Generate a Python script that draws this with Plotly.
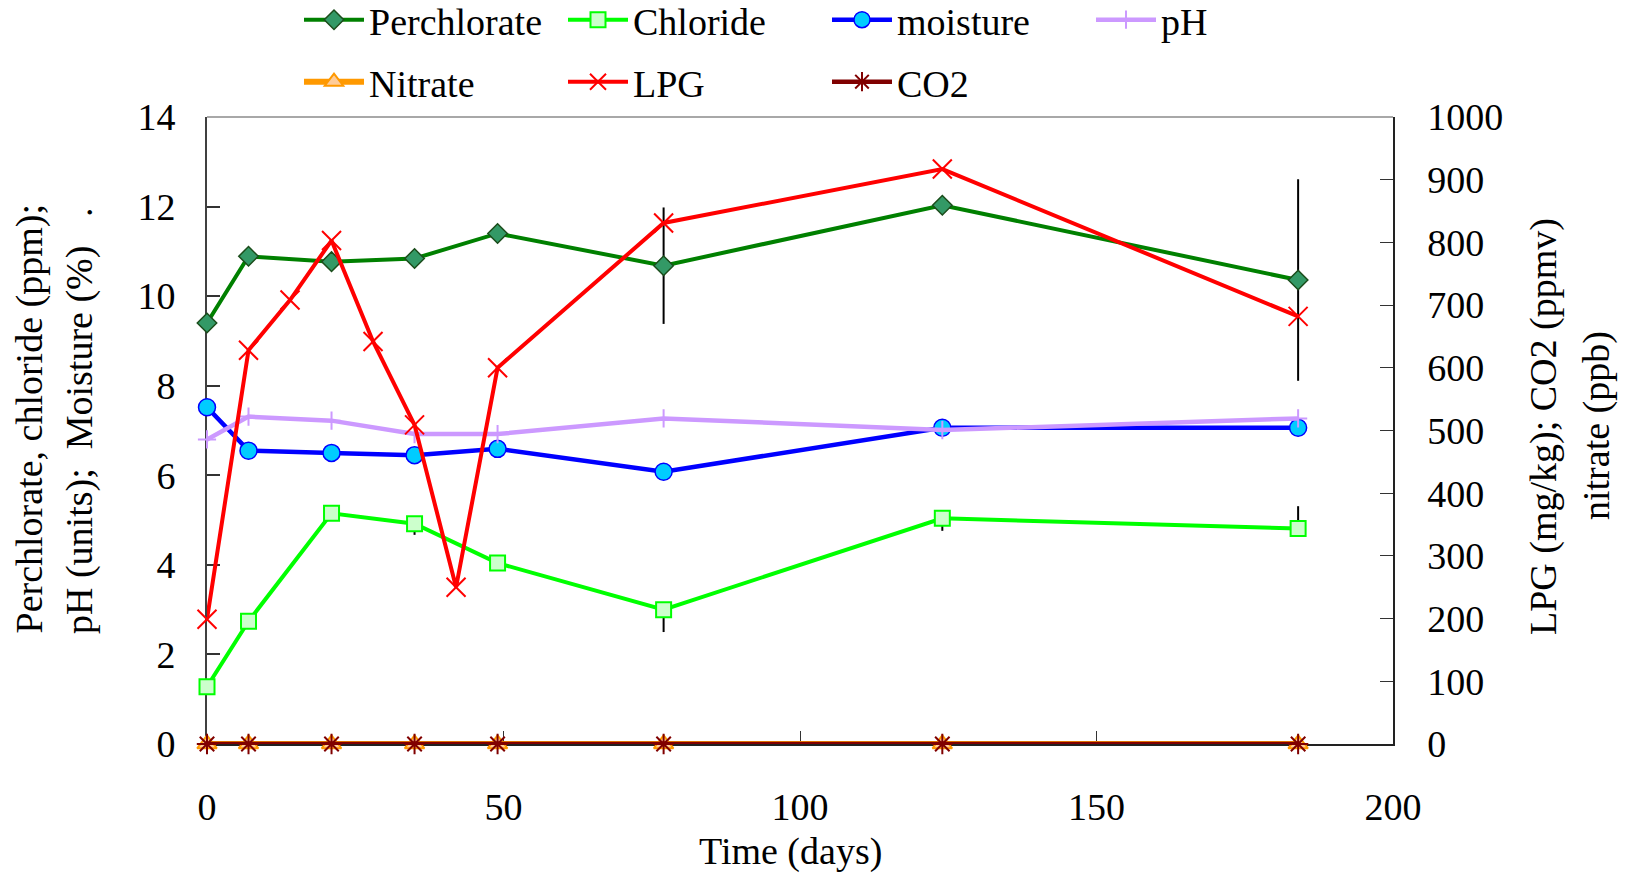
import plotly.graph_objects as go

# ---------------- data ----------------
days = [0, 7, 21, 35, 49, 77, 124, 184]
perchlorate = [9.40, 10.89, 10.77, 10.84, 11.40, 10.68, 12.03, 10.36]
perchlorate_err = [0, 0, 0, 0, 0, 1.3, 0, 2.25]
chloride = [1.28, 2.74, 5.15, 4.92, 4.04, 3.00, 5.04, 4.81]
chloride_err_plus = [0, 0, 0, 0, 0, 0, 0, 0.5]
chloride_err_minus = [0, 0, 0, 0.25, 0, 0.5, 0.28, 0]
moisture = [7.52, 6.55, 6.50, 6.45, 6.59, 6.08, 7.06, 7.06]
ph = [6.80, 7.31, 7.22, 6.92, 6.92, 7.27, 7.01, 7.27]
nitrate = [0, 0, 0, 0, 0, 0, 0, 0]
co2 = [0, 0, 0, 0, 0, 0, 0, 0]
lpg_days = [0, 7, 14, 21, 28, 35, 42, 49, 77, 124, 184]
lpg = [199, 628, 708, 803, 642, 509, 250, 600, 831, 917, 682]

x_ticks = [0, 50, 100, 150, 200]
y_ticks = [0, 2, 4, 6, 8, 10, 12, 14]
y2_ticks = [0, 100, 200, 300, 400, 500, 600, 700, 800, 900, 1000]

# ---------------- layout geometry ----------------
W, H = 1625, 875
ML, MR, MT, MB = 207, 232, 117, 131
PW, PH = W - ML - MR, H - MT - MB
FONT = "Liberation Serif, Times New Roman, serif"
FS = 38
ITEMW = 60            # legend symbol length
COLW = 264            # legend column pitch


def px_x(px):
    return (px - ML) / PW


def px_y(py):
    return (H - MB - py) / PH


fig = go.Figure()

fig.add_trace(go.Scatter(
    x=days, y=perchlorate, name="Perchlorate", mode="lines+markers",
    line=dict(color="#008000", width=4),
    marker=dict(symbol="diamond", size=15, color="#339966",
                line=dict(color="#1b4d1b", width=1.5)),
    error_y=dict(type="data", array=perchlorate_err, visible=True,
                 color="black", thickness=2, width=0),
    cliponaxis=False, legend="legend"))

fig.add_trace(go.Scatter(
    x=days, y=chloride, name="Chloride", mode="lines+markers",
    line=dict(color="#00FF00", width=4),
    marker=dict(symbol="square", size=15, color="#CCFFCC",
                line=dict(color="#00FF00", width=2)),
    error_y=dict(type="data", array=chloride_err_plus,
                 arrayminus=chloride_err_minus, symmetric=False, visible=True,
                 color="black", thickness=2, width=0),
    cliponaxis=False, legend="legend"))

fig.add_trace(go.Scatter(
    x=days, y=moisture, name="moisture", mode="lines+markers",
    line=dict(color="#0000FF", width=4.5),
    marker=dict(symbol="circle", size=17, color="#00CCFF",
                line=dict(color="#0000FF", width=1.5)),
    cliponaxis=False, legend="legend"))

fig.add_trace(go.Scatter(
    x=days, y=ph, name="pH", mode="lines+markers",
    line=dict(color="#CC99FF", width=4.5),
    marker=dict(symbol="cross-thin", size=13, color="#CC99FF",
                line=dict(color="#CC99FF", width=2)),
    cliponaxis=False, legend="legend"))

fig.add_trace(go.Scatter(
    x=days, y=nitrate, name="Nitrate", mode="lines+markers", yaxis="y2",
    line=dict(color="#FF9900", width=6),
    marker=dict(symbol="triangle-up", size=17, color="#FFCC99",
                line=dict(color="#FF9900", width=2)),
    cliponaxis=False, legend="legend2"))

fig.add_trace(go.Scatter(
    x=lpg_days, y=lpg, name="LPG", mode="lines+markers", yaxis="y2",
    line=dict(color="#FF0000", width=4),
    marker=dict(symbol="x-thin", size=19, color="#FF0000",
                line=dict(color="#FF0000", width=2)),
    cliponaxis=False, legend="legend2"))

fig.add_trace(go.Scatter(
    x=days, y=co2, name="CO2", mode="lines+markers", yaxis="y2",
    line=dict(color="#800000", width=4.5),
    marker=dict(symbol="asterisk-open", size=17, color="#800000",
                line=dict(color="#800000", width=2)),
    cliponaxis=False, legend="legend2"))

axis_font = dict(family=FONT, size=FS, color="black")

legend_common = dict(
    orientation="h", xanchor="left", yanchor="middle",
    font=dict(family=FONT, size=FS, color="black"),
    bgcolor="rgba(0,0,0,0)", borderwidth=0,
    entrywidth=COLW - (ITEMW + 10) - 5, entrywidthmode="pixels", itemwidth=ITEMW,
    traceorder="normal",
)

fig.update_layout(
    width=W, height=H,
    margin=dict(l=ML, r=MR, t=MT, b=MB, autoexpand=False),
    paper_bgcolor="white", plot_bgcolor="white",
    font=dict(family=FONT, size=FS, color="black"),
    xaxis=dict(range=[0, 200], tickvals=x_ticks, ticks="inside", ticklen=13,
               tickwidth=1, tickcolor="#333", showline=True, linecolor="#222",
               linewidth=1.5, showgrid=False, zeroline=False,
               tickfont=axis_font, ticklabelstandoff=29, layer="below traces"),
    yaxis=dict(range=[0, 14], tickvals=y_ticks, ticks="inside", ticklen=13,
               tickwidth=1.5, tickcolor="#333", showline=True, linecolor="#404040",
               linewidth=2, showgrid=False, zeroline=False,
               tickfont=axis_font, ticklabelstandoff=22, layer="below traces"),
    yaxis2=dict(range=[0, 1000], tickvals=y2_ticks, overlaying="y", side="right",
                ticks="inside", ticklen=13, tickwidth=1, tickcolor="#333",
                showline=True, linecolor="#222", linewidth=1.5, showgrid=False,
                zeroline=False, tickfont=axis_font, ticklabelstandoff=25,
                layer="below traces"),
    legend=dict(legend_common, x=px_x(299), y=px_y(20)),
    legend2=dict(legend_common, x=px_x(299), y=px_y(82)),
    showlegend=True,
)

# top border of the plot frame (light gray)
fig.add_shape(type="line", xref="paper", yref="paper", x0=0, x1=1, y0=1, y1=1,
              line=dict(color="#a8a8a8", width=2), layer="below")

ann_font = dict(family=FONT, size=FS, color="black")
fig.add_annotation(text="Perchlorate, chloride (ppm);", xref="paper", yref="paper",
                   x=px_x(29), y=px_y(636), xanchor="center", yanchor="bottom",
                   textangle=-90, showarrow=False, font=ann_font)
fig.add_annotation(text="pH (units);\u00a0\u00a0Moisture (%)\u00a0\u00a0\u00a0.", xref="paper", yref="paper",
                   x=px_x(79), y=px_y(636), xanchor="center", yanchor="bottom",
                   textangle=-90, showarrow=False, font=ann_font)
fig.add_annotation(text="LPG (mg/kg); CO2 (ppmv)", xref="paper", yref="paper",
                   x=px_x(1544), y=px_y(427), xanchor="center", yanchor="middle",
                   textangle=-90, showarrow=False, font=ann_font)
fig.add_annotation(text="nitrate (ppb)", xref="paper", yref="paper",
                   x=px_x(1596), y=px_y(426), xanchor="center", yanchor="middle",
                   textangle=-90, showarrow=False, font=ann_font)
fig.add_annotation(text="Time (days)", xref="paper", yref="paper",
                   x=px_x(790), y=px_y(851), xanchor="center", yanchor="middle",
                   showarrow=False, font=ann_font)

fig.write_html("out.html", config={"displayModeBar": False},
               post_script="document.body.style.margin='0';document.body.style.overflow='hidden';")
